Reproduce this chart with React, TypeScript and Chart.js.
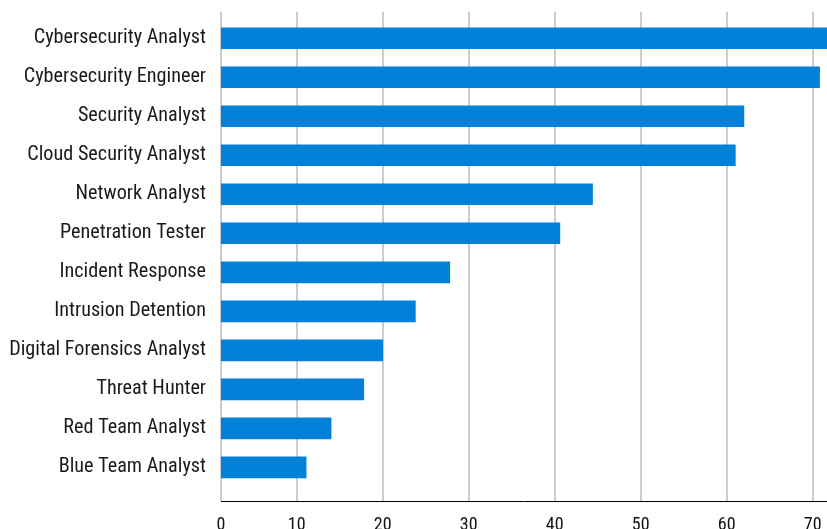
import React, { useEffect, useRef } from "react";
import { Chart, registerables } from "chart.js";
Chart.register(...registerables);

const categories = [
  "Cybersecurity Analyst",
  "Cybersecurity Engineer",
  "Security Analyst",
  "Cloud Security Analyst",
  "Network Analyst",
  "Penetration Tester",
  "Incident Response",
  "Intrusion Detention",
  "Digital Forensics Analyst",
  "Threat Hunter",
  "Red Team Analyst",
  "Blue Team Analyst",
];
const values = [72, 70.8, 62.0, 61.0, 44.4, 40.6, 27.8, 23.8, 20.0, 17.8, 14.0, 11.1];
const xTickValues = [1.2, 10, 20, 30, 40, 50, 60, 70];
const xTickLabels = ["0", "10", "20", "30", "40", "50", "60", "70"];

const X_MIN = 1.2;
const X_MAX = 71.66;
const Y_MIN = -0.674;
const Y_MAX = 11.864;

const FONT_FAMILY = "'Roboto Condensed', 'Liberation Sans Narrow', 'DejaVu Sans Condensed', Roboto, sans-serif";

export default function App() {
  const ref = useRef<HTMLCanvasElement>(null);
  useEffect(() => {
    document.body.style.margin = "0";
    const chart = new Chart(ref.current as HTMLCanvasElement, {
      type: "bar",
      data: {
        datasets: [
          {
            data: values.map((v, i) => ({ x: v, y: i })) as any,
            backgroundColor: "#0380d8",
            barThickness: 21,
            borderWidth: 0,
          },
        ],
      },
      options: {
        indexAxis: "y",
        animation: false,
        responsive: false,
        maintainAspectRatio: false,
        layout: { padding: { top: 12, left: 0, right: 0, bottom: 0 } },
        plugins: { legend: { display: false }, tooltip: { enabled: false } },
        scales: {
          x: {
            type: "linear",
            position: "bottom",
            min: X_MIN,
            max: X_MAX,
            afterBuildTicks: (s: any) => {
              s.ticks = xTickValues.map((v) => ({ value: v }));
            },
            afterFit: (s: any) => {
              s.height = 28;
              s.paddingLeft = 0;
              s.paddingRight = 0;
            },
            grid: { color: "#cccccc", lineWidth: 2, drawTicks: false },
            border: { display: true, color: "#000000", width: 1 },
            ticks: {
              padding: 14,
              color: "#111111",
              autoSkip: false,
              maxRotation: 0,
              font: { family: FONT_FAMILY, size: 18, weight: "400 condensed" as any },
              callback: (_v: any, i: number) => xTickLabels[i],
            },
          },
          y: {
            type: "linear",
            reverse: true,
            offset: false,
            min: Y_MIN,
            max: Y_MAX,
            afterBuildTicks: (s: any) => {
              s.ticks = categories.map((_c, i) => ({ value: i }));
            },
            afterFit: (s: any) => {
              s.width = 221;
              s.paddingTop = 0;
              s.paddingBottom = 0;
            },
            grid: { display: false, drawTicks: false, offset: false },
            border: { display: false },
            ticks: {
              padding: 15,
              color: "#1a1a1a",
              autoSkip: false,
              font: { family: FONT_FAMILY, size: 20.2, weight: "400 condensed" as any },
              callback: (_v: any, i: number) => categories[i],
            },
          },
        },
      } as any,
    });
    return () => chart.destroy();
  }, []);
  return (
    <canvas
      ref={ref}
      width={827}
      height={529}
      style={{ display: "block", width: 827, height: 529 }}
    />
  );
}
